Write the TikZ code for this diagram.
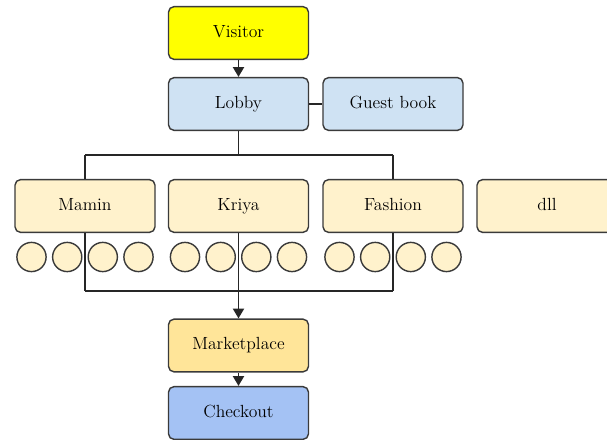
\documentclass[tikz,border=0pt]{standalone}
\usepackage{tikz}
\usetikzlibrary{arrows.meta, positioning}
\definecolor{visitorfill}{HTML}{FFFF00}
\definecolor{lobbyfill}{HTML}{CFE2F3}
\definecolor{shopfill}{HTML}{FFF2CC}
\definecolor{marketfill}{HTML}{FFE599}
\definecolor{checkfill}{HTML}{A4C2F4}
\definecolor{edgegray}{HTML}{3A3A3A}
\tikzstyle{block} = [rectangle, draw=edgegray, line width=1pt, rounded corners=4pt,
                 minimum width=3.5cm, minimum height=1.32cm,
                 text height=1.8ex, text depth=0.4ex,
                 font=\fontsize{12.5}{15}\selectfont]
\tikzstyle{branch} = [line width=1pt, draw=black!85]
\tikzset{
	bead/.style={circle, draw=edgegray, line width=1pt, fill=shopfill,
		minimum size=0.73cm, inner sep=0pt},
	flow/.style={branch, -{Triangle[width=8pt,length=7pt]}},
}

\begin{document}
\begin{tikzpicture}[x=0.025cm, y=-0.025cm]

\useasboundingbox (0,0) rectangle (607,440);
\clip (0,0) rectangle (607,440);

\node [block, fill=visitorfill] at (238.5,33) (visitor) {Visitor};
\node [block, fill=lobbyfill] at (238.5,104) (lobby) {Lobby};
\node [block, fill=lobbyfill] at (393,104) (guest) {Guest book};

\node [block, fill=shopfill] at (85,206) (mamin) {Mamin};
\node [block, fill=shopfill] at (238.5,206) (kriya) {Kriya};
\node [block, fill=shopfill] at (393,206) (fashion) {Fashion};
\node [block, fill=shopfill] at (547,206) (dll) {dll};

	%beads
\foreach \g/\cx in {m/85, k/238.5, f/393}
	\foreach \dx [count=\i] in {-53.5, -17.8, 17.8, 53.5}
		\node [bead] at (\cx+\dx,257) (\g\i) {};

\node [block, fill=marketfill] at (238.5,345.5) (market) {Marketplace};
\node [block, fill=checkfill] at (238.5,413) (checkout) {Checkout};

\coordinate (topl) at (85,155);
\coordinate (topr) at (393,155);
\coordinate (botl) at (85,291);
\coordinate (botr) at (393,291);

\path [flow] (visitor.south) -- (lobby.north);
\path [branch] (lobby.east) -- (guest.west);
\path [branch] (lobby.south) -- (lobby.south |- topl);
\path [branch] (topl) -- (topr);
\path [branch] (topl) -- (mamin.north);
\path [branch] (topr) -- (fashion.north);
\path [branch] (mamin.south) -- (botl);
\path [branch] (fashion.south) -- (botr);
\path [branch] (botl) -- (botr);
\path [flow] (kriya.south) -- (market.north);
\path [flow] (market.south) -- (checkout.north);

\end{tikzpicture}
\end{document}
